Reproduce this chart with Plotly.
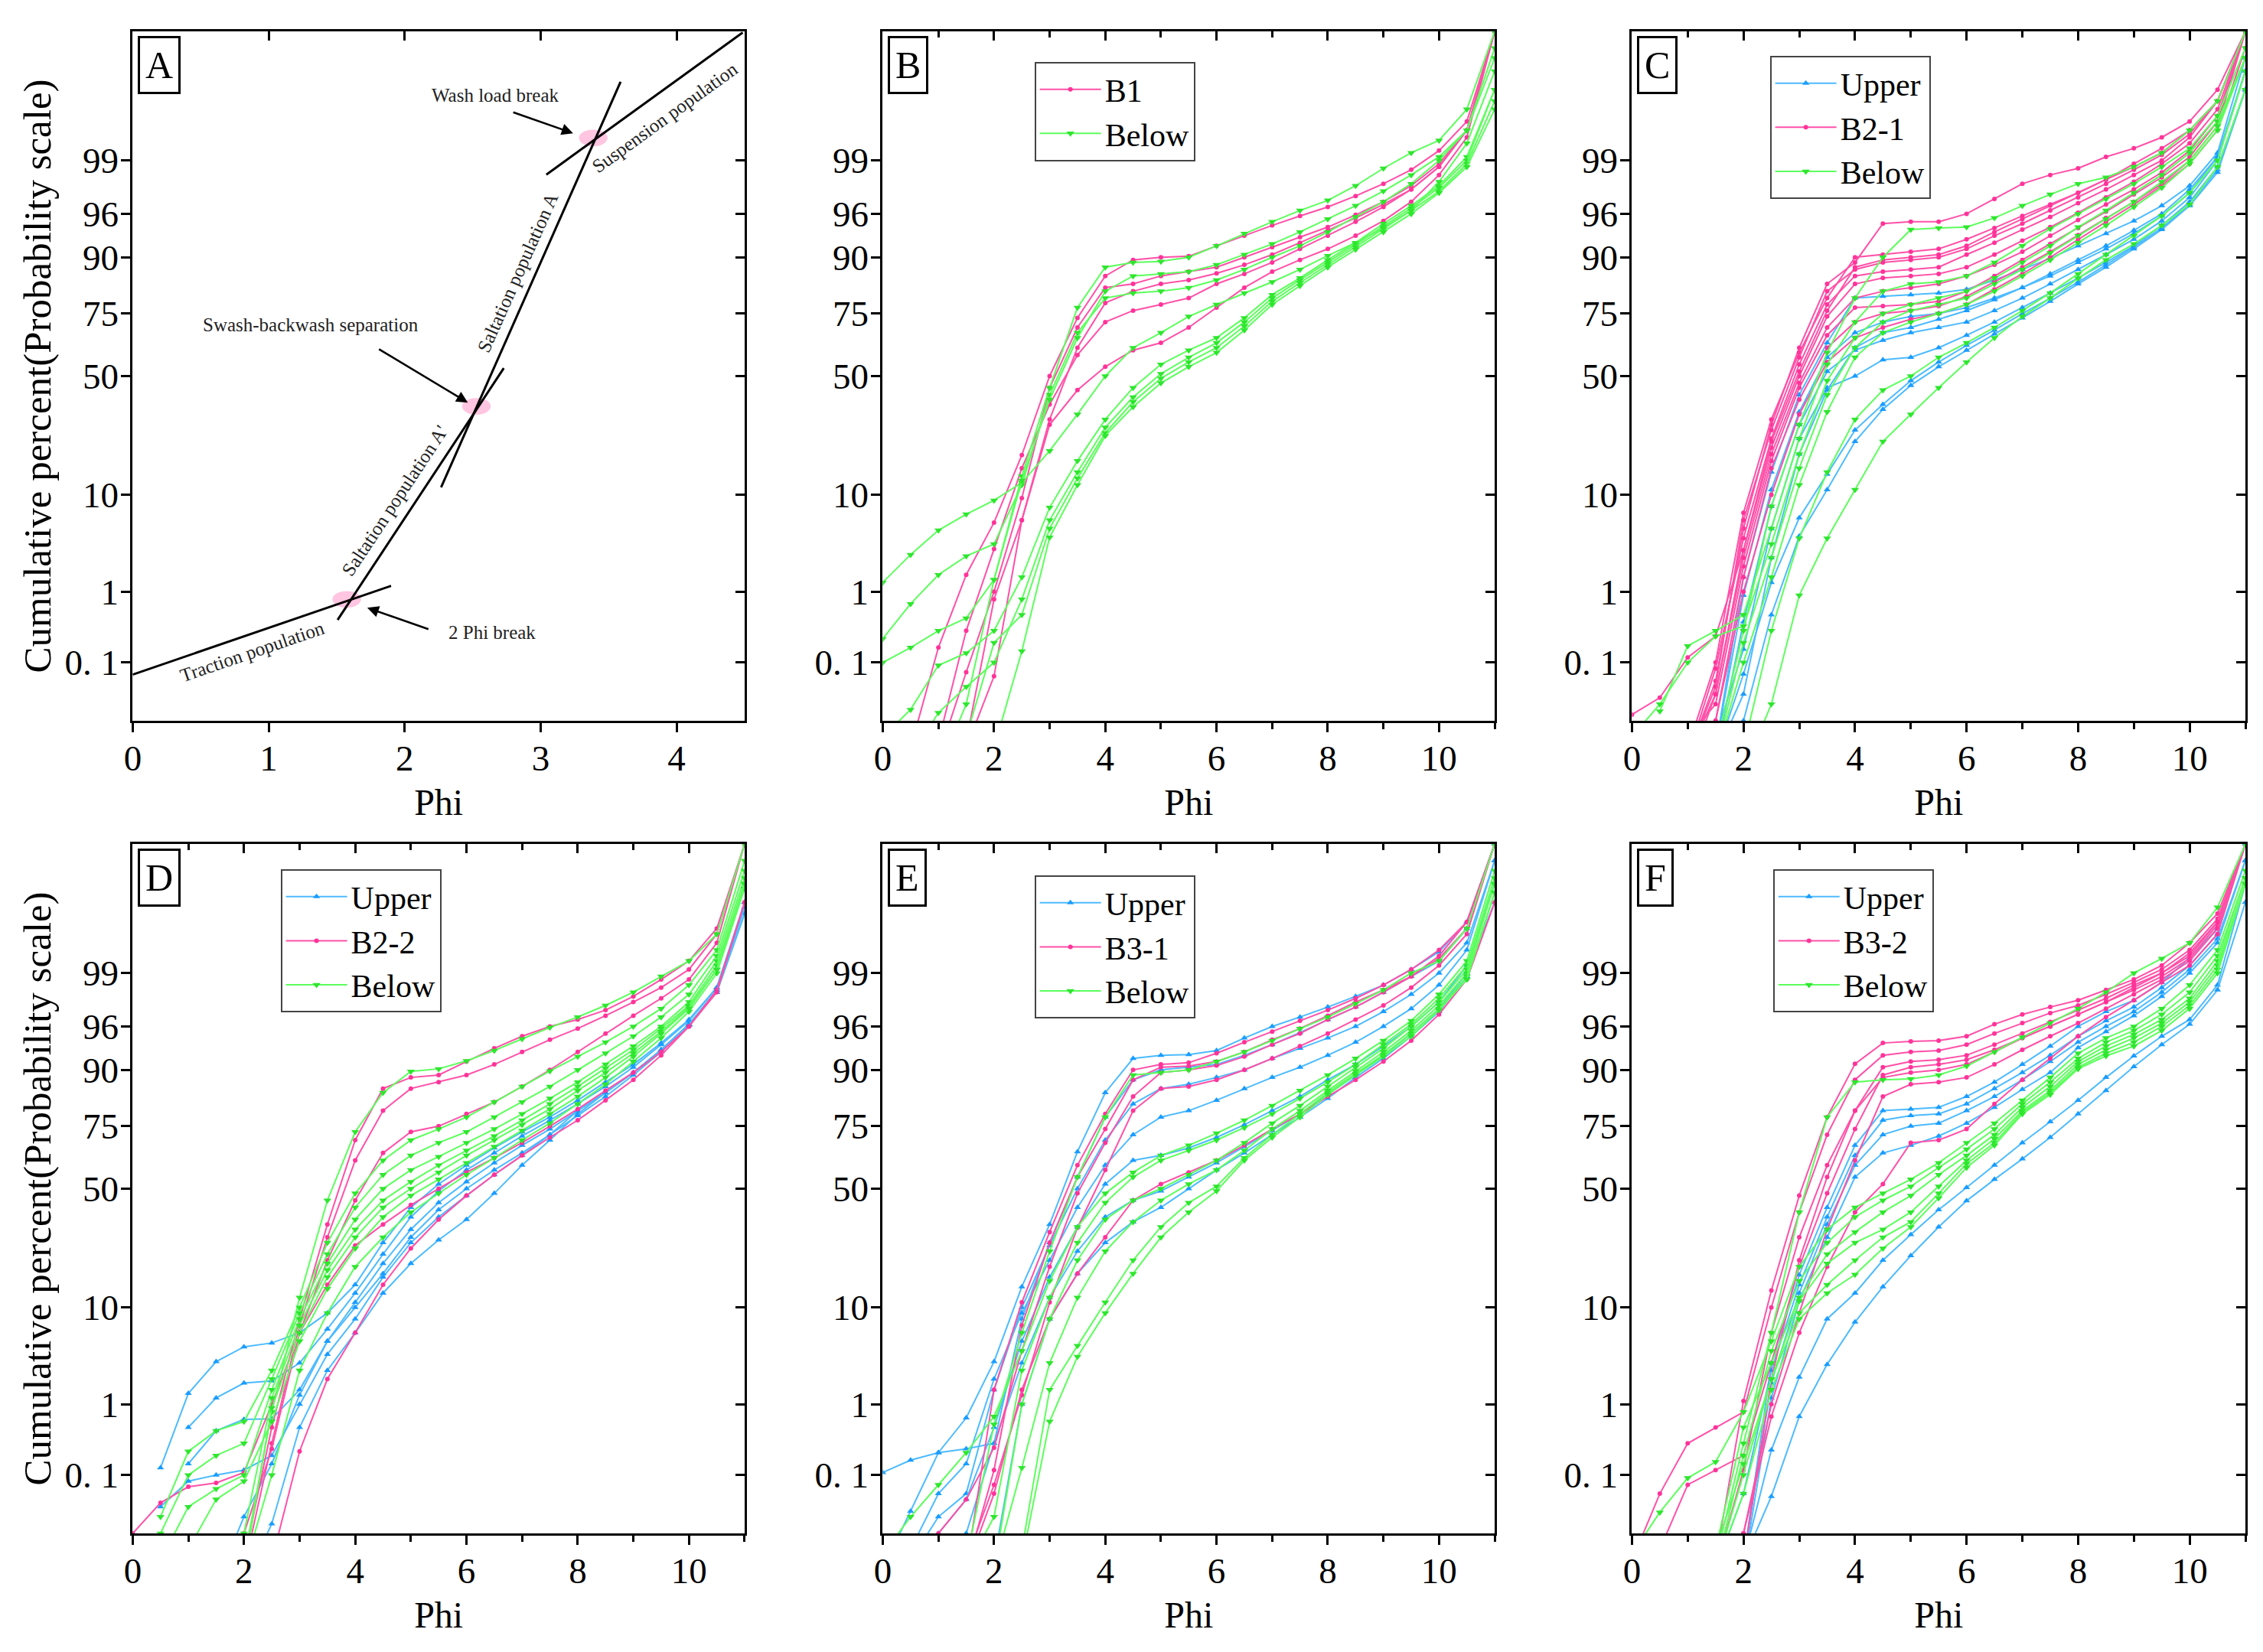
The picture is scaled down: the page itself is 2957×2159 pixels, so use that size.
import plotly.graph_objects as go
from statistics import NormalDist

FONT = "Liberation Serif"
N = None

# grain size grid (phi) shared by every sample curve
PHI = [0, 0.5, 1, 1.5, 2, 2.5, 3, 3.5, 4, 4.5, 5, 5.5, 6, 6.5, 7, 7.5, 8, 8.5, 9, 9.5, 10, 10.5, 11]

# probability axis
Y_TICKS = [0.1, 1, 10, 50, 75, 90, 96, 99]
Y_TICK_TEXT = ["0. 1", "1", "10", "50", "75", "90", "96", "99"]
Y_LIMITS = [0.01, 99.99]

# ---- panel A : schematic populations (phi, cumulative %) ----
A_TRACTION_PHI = [0.0, 1.90]
A_TRACTION_PCT = [0.064, 1.18]
A_SALT_A1_PHI = [1.507, 2.729]
A_SALT_A1_PCT = [0.427, 53.4]
A_SALT_A_PHI = [2.268, 3.588]
A_SALT_A_PCT = [11.5, 99.925]
A_SUSP_PHI = [3.042, 4.486]
A_SUSP_PCT = [98.515, 99.9895]
A_BREAK_PHI = [1.574, 2.528, 3.387]
A_BREAK_PCT = [0.80, 37.2, 99.49]

# ---- panel B ----
B_B1 = [
    [N, 0.003, 0.17, 1.6, 5.7, 19.7, 50, 73.5, 86, 89.5, 90, 90.2, 92, 93.5, 94.8, 95.8, 96.6, 97.4, 98.1, 98.7, 99.25, 99.7, 99.99],
    [N, N, 0.002, 0.07, 1.0, 9.4, 45, 70, 83, 84, 86, 87, 88, 90, 91.8, 93.3, 94.6, 95.9, 97, 98, 98.9, 99.6, 99.99],
    [N, N, N, 0.003, 0.06, 6, 32, 62, 78.5, 82, 84, 85, 86.6, 88.5, 90.5, 92.5, 94.2, 95.6, 96.8, 97.8, 98.8, 99.6, 99.99],
    [N, N, 0.004, 0.3, 3.1, 16, 38, 59, 72, 76, 78, 80, 84, 86.5, 89, 91.5, 93.5, 95.2, 96.6, 97.8, 98.8, 99.6, 99.99],
    [N, N, N, 0.004, 0.8, 6, 30, 44, 54, 61, 64, 70, 77, 83, 87, 89.5, 91.5, 93.5, 95.3, 97, 98.5, 99.5, 99.99],
]
B_BELOW = [
    [N, N, 0.001, 0.02, 1.4, 14, 45, 77, 88, 89, 89.2, 90, 92, 93.8, 95.2, 96.3, 97.1, 98, 98.75, 99.2, 99.45, 99.8, 99.99],
    [1.3, 2.7, 4.8, 6.8, 9, 12.5, 21, 34, 50, 62, 68, 74, 78, 81.5, 84.5, 87.5, 90.3, 92.5, 94.5, 96.3, 98.2, 99.4, 99.95],
    [0.23, 0.7, 1.6, 2.6, 3.5, 12, 42, 68, 80, 81.5, 82, 83, 85, 87.5, 90, 92, 94, 95.7, 97, 98.1, 99, 99.6, 99.98],
    [0.1, 0.17, 0.3, 0.45, 1.4, 13, 40, 66, 82, 86, 86.5, 87, 88.5, 90.5, 92.3, 94, 95.5, 96.7, 97.7, 98.5, 99.1, 99.6, 99.97],
    [0.005, 0.016, 0.09, 0.14, 0.3, 1.5, 7.8, 18, 32, 45, 55, 61, 66, 73.5, 81, 85.5, 89.5, 92.5, 95, 96.7, 98, 99.1, 99.9],
    [N, 0.002, 0.014, 0.04, 0.1, 0.8, 6, 15, 29, 41, 51, 58, 64, 72, 80, 85, 89, 92.2, 94.7, 96.5, 97.9, 99, 99.9],
    [N, N, N, 0.005, 0.2, 0.5, 5, 13.5, 27, 39, 49, 56, 62, 70.5, 79, 84.3, 88.5, 91.8, 94.4, 96.3, 97.7, 98.9, 99.85],
    [N, N, N, N, 0.003, 0.15, 4.1, 12, 26, 37, 47, 54, 60, 69, 78, 83.5, 88, 91.4, 94, 96, 97.6, 98.8, 99.8],
]

# ---- panel C ----
C_UPPER = [
    [N, N, N, 0.003, 1.5, 15, 42, 64, 80, 80.5, 81, 81.5, 82.5, 85, 87.5, 89.8, 92, 93.8, 95.3, 96.7, 98, 99.2, 99.97],
    [N, N, N, 0.003, 0.9, 11, 35, 58, 68, 72, 74, 75, 77, 80, 83, 86, 89, 91.5, 93.8, 95.8, 97.6, 99.1, 99.95],
    [N, N, N, 0.002, 0.4, 8, 30, 52, 61, 65, 68, 70, 72, 76, 80, 84, 87.5, 90.5, 93, 95.3, 97.3, 99, 99.95],
    [N, N, N, 0.005, 0.16, 5, 25, 45, 50, 57, 58, 62, 67, 72, 77, 81.5, 85.5, 89, 92, 94.8, 97, 98.8, 99.9],
    [N, N, N, 0.002, 0.065, 1.3, 6.3, 14.5, 28, 38, 48, 56, 63, 69, 75, 80, 84.5, 88.5, 91.8, 94.5, 96.8, 98.7, 99.9],
    [N, N, N, 0.001, 0.01, 0.5, 4.2, 11, 24, 36, 46, 54, 61, 67.5, 73.5, 79, 84, 88, 91.5, 94.3, 96.7, 98.6, 99.9],
    [N, N, N, 0.002, 0.03, 2.5, 20, 44, 62, 68, 70, 73, 76, 79.5, 83, 86.5, 89.5, 92, 94.2, 96, 97.8, 99.1, 99.95],
]
C_B21 = [
    [N, N, 0.002, 0.05, 5, 30, 62, 84, 89, 95, 95.2, 95.2, 96, 97.2, 98.1, 98.5, 98.75, 99.1, 99.3, 99.5, 99.7, 99.9, 99.99],
    [N, N, 0.003, 0.1, 7, 32, 60, 80, 90, 90.5, 91, 91.5, 93, 94.5, 95.8, 96.8, 97.6, 98.3, 98.8, 99.2, 99.6, 99.85, 99.99],
    [N, N, 0.002, 0.08, 4, 25, 55, 78, 86, 87, 87.5, 88, 90.5, 92.5, 94.3, 95.7, 96.9, 97.8, 98.5, 99, 99.5, 99.85, 99.99],
    [N, N, 0.001, 0.03, 3, 22, 50, 74, 84, 85.5, 86, 86.5, 88, 90.5, 92.8, 94.6, 96.1, 97.3, 98.2, 98.9, 99.4, 99.8, 99.99],
    [N, N, 0.005, 0.02, 2, 18, 45, 67, 77, 77.5, 78, 79, 82, 86, 89.5, 92.3, 94.5, 96.2, 97.5, 98.4, 99.1, 99.7, 99.99],
    [N, N, 0.001, 0.01, 1.5, 16, 40, 62, 72, 75, 76, 77.5, 80.5, 84.5, 88, 91, 93.6, 95.6, 97, 98.1, 99, 99.65, 99.99],
    [N, N, 0.001, 0.01, 1.0, 10, 34, 56, 66, 70, 73, 75, 78, 82.5, 86.5, 90, 93, 95.2, 96.8, 98, 98.9, 99.6, 99.98],
    [0.013, 0.026, 0.12, 0.25, 3, 24, 52, 76, 88, 89.5, 90, 90.5, 92, 94, 95.5, 96.7, 97.6, 98.3, 98.9, 99.3, 99.6, 99.85, 99.99],
    [N, N, 0.002, 0.04, 6, 28, 58, 82, 87.5, 89, 89.5, 90, 91.5, 93.5, 95, 96.3, 97.3, 98.1, 98.7, 99.15, 99.55, 99.85, 99.99],
    [N, N, 0.002, 0.03, 2.5, 20, 47, 70, 80, 82, 83, 84, 86, 88.5, 91, 93.5, 95.4, 96.8, 97.8, 98.6, 99.25, 99.75, 99.99],
]
C_BELOW = [
    [N, N, N, 0.003, 0.3, 8, 30, 60, 80, 90, 94.3, 94.5, 94.6, 95.6, 96.7, 97.5, 98.1, 98.4, 98.8, 99.2, 99.6, 99.85, 99.99],
    [N, 0.015, 0.18, 0.3, 0.5, 5, 25, 55, 72, 82, 84, 84.5, 86, 89, 92, 94.4, 96, 97.2, 98.1, 98.8, 99.3, 99.75, 99.98],
    [0.005, 0.02, 0.1, 0.25, 0.35, 3.5, 20, 48, 66, 75, 78, 80, 82, 85.5, 89, 92, 94.6, 96.3, 97.6, 98.5, 99.2, 99.7, 99.97],
    [N, N, N, 0.002, 0.1, 1.5, 12, 35, 58, 68, 72, 75, 78, 82, 86, 89.5, 92.5, 94.8, 96.6, 97.9, 98.9, 99.6, 99.97],
    [N, N, N, N, 0.003, 0.3, 4, 15, 32, 44, 50, 58, 64, 70, 76, 81.5, 86.5, 90.5, 93.5, 95.8, 97.6, 99, 99.95],
    [N, N, N, N, 0.001, 0.02, 0.9, 4, 11, 24, 34, 45, 56, 66, 74, 80, 85.4, 89.5, 92.3, 94.8, 96.8, 98.8, 99.9],
    [N, N, N, 0.002, 0.2, 2.5, 16, 42, 62, 72, 76, 78, 80, 84, 87.5, 90.8, 93.5, 95.5, 97, 98.2, 99, 99.65, 99.97],
]

# ---- panel D ----
D_UPPER = [
    [N, 0.13, 1.36, 3.1, 4.4, 4.8, 6, 9, 15, 28, 42, 52, 60, 67, 73, 78, 83, 87.5, 91, 94.2, 96.6, 98.5, 99.9],
    [N, N, 0.5, 1.2, 1.8, 1.9, 3, 6.5, 13, 24, 38, 49, 58, 65, 71.5, 77, 82, 86.5, 90.5, 94, 96.5, 98.5, 99.9],
    [N, N, 0.15, 0.45, 0.64, 0.65, 1.5, 5, 11, 21, 33, 44, 53, 61, 68, 74, 80, 85, 89.5, 93.3, 96.2, 98.4, 99.88],
    [N, 0.03, 0.08, 0.1, 0.12, 0.2, 1.0, 3.7, 8, 17, 28, 38, 47, 56, 64, 72, 80, 85, 89.5, 93.3, 96.2, 98.3, 99.85],
    [N, N, N, N, 0.001, 0.015, 0.5, 2.5, 6, 13, 21, 29, 37, 48, 60, 70, 79, 85, 89.5, 93.3, 96.2, 98.3, 99.85],
    [N, N, N, 0.001, 0.02, 0.15, 1.3, 5, 10, 18, 30, 41, 50, 58, 65, 72, 78.5, 84, 89, 93, 96.1, 98.4, 99.88],
]
D_B22 = [
    [N, N, N, N, 0.003, 0.5, 8, 35, 70, 86, 88.5, 89, 91.5, 93.5, 95, 96, 96.6, 97.3, 98.1, 98.8, 99.3, 99.75, 99.99],
    [N, N, N, N, 0.002, 0.3, 7, 30, 62, 80, 86, 87.5, 89, 91, 93, 94.6, 95.8, 96.9, 97.8, 98.5, 99.1, 99.7, 99.99],
    [N, N, N, 0.001, 0.01, 0.25, 6, 22, 45, 65, 73, 75, 79, 82.5, 86.5, 90, 93, 95.3, 96.9, 98, 98.8, 99.6, 99.99],
    [0.01, 0.035, 0.065, 0.075, 0.11, 1.0, 6, 15, 27, 35, 43, 50, 57, 63, 69, 75, 80.5, 85.5, 89.5, 93, 96, 98.4, 99.9],
    [N, N, N, N, N, 0.003, 0.23, 2, 6, 15, 26, 37, 47, 56, 64, 71, 77, 83, 88, 92.5, 96, 98.3, 99.9],
]
D_BELOW = [
    [N, N, N, N, 0.003, 0.8, 12, 45, 73, 85, 89.7, 90.2, 91.6, 93.2, 94.7, 95.9, 96.8, 97.6, 98.3, 98.9, 99.3, 99.7, 99.99],
    [N, 0.02, 0.23, 0.45, 0.6, 2.5, 10, 28, 48, 62, 70, 74, 78, 82.5, 86.5, 89.8, 92.3, 94.3, 96, 97.4, 98.6, 99.5, 99.98],
    [N, 0.01, 0.1, 0.2, 0.3, 2, 9, 24, 42, 56, 64, 69, 73, 78, 82.5, 86.5, 90, 92.8, 95, 96.8, 98.2, 99.4, 99.97],
    [N, 0.003, 0.03, 0.06, 0.1, 1.5, 8, 21, 37, 50, 58, 63.5, 69, 74, 79, 83.5, 87.5, 91, 93.8, 96, 97.8, 99.3, 99.96],
    [N, N, N, 0.002, 0.01, 1.2, 7, 19, 33, 45, 53, 60, 66, 71.5, 77, 82, 86.5, 90.3, 93.3, 95.8, 97.6, 99.2, 99.95],
    [N, N, N, N, 0.002, 0.9, 6, 17, 30, 42, 50, 57, 64, 70, 75.5, 80.5, 85.5, 89.5, 92.8, 95.5, 97.5, 99.1, 99.95],
    [N, N, N, N, 0.002, 0.1, 2.5, 9, 20, 30, 40, 48, 56, 63, 70, 76, 82, 87, 91.5, 94.8, 97.2, 99, 99.94],
    [N, 0.001, 0.005, 0.04, 0.08, 0.6, 5, 14, 26, 38, 47, 54, 61, 67.5, 73.5, 79, 84, 88.5, 92.3, 95.3, 97.4, 99.1, 99.95],
]

# ---- panel E ----
E_UPPER = [
    [0.002, 0.025, 0.22, 0.67, 3.1, 14.5, 35, 65.5, 85, 92, 92.5, 92.6, 93.2, 94.8, 96, 96.8, 97.5, 98.1, 98.6, 99.1, 99.47, 99.8, 99.99],
    [0.11, 0.17, 0.22, 0.25, 0.3, 8, 28, 55, 78, 88, 90, 90.5, 91, 92.5, 94, 95.4, 96.6, 97.5, 98.3, 98.9, 99.3, 99.75, 99.99],
    [N, 0.003, 0.02, 0.05, 1.5, 10, 27, 50, 70, 82, 86, 87, 88.5, 90, 92, 93.5, 94.8, 96, 97.2, 98.2, 99, 99.6, 99.98],
    [N, 0.005, 0.05, 0.15, 2, 9, 22, 42, 60, 72, 78, 80, 83, 86, 88.5, 90.5, 92.5, 94.3, 96, 97.4, 98.6, 99.5, 99.98],
    [N, 0.001, 0.01, 0.04, 0.5, 5, 17, 34, 52, 62, 64, 67, 71, 75.5, 80, 84, 88, 91, 93.8, 96, 97.8, 99.2, 99.95],
    [N, N, 0.001, 0.01, 0.3, 3, 12, 25, 38, 45, 49, 55, 61, 67.5, 73.5, 79, 84.5, 89, 92.5, 95.3, 97.4, 99, 99.9],
    [N, N, N, N, 0.003, 1, 8, 18, 28, 36, 42, 50, 58, 65, 72, 78, 83.5, 88.5, 92, 95, 97.2, 98.9, 99.9],
]
E_B31 = [
    [N, N, N, 0.002, 1.5, 11, 32, 60, 79, 90, 91, 91.3, 92.8, 94.3, 95.5, 96.5, 97.3, 98, 98.6, 99.1, 99.5, 99.8, 99.99],
    [N, N, N, 0.002, 0.12, 7, 28, 55, 74, 88, 90.5, 90.7, 91.5, 93, 94.6, 95.8, 96.9, 97.8, 98.4, 98.9, 99.4, 99.8, 99.99],
    [N, 0.002, 0.01, 0.04, 0.26, 4, 20, 48, 69, 84, 89.5, 90, 90.8, 92.3, 94, 95.3, 96.6, 97.5, 98.3, 98.9, 99.35, 99.75, 99.99],
    [N, N, N, 0.003, 0.07, 1.3, 11, 33.7, 58, 80, 86, 86.5, 88, 90, 92, 93.8, 95.3, 96.6, 97.6, 98.5, 99.2, 99.7, 99.99],
    [N, N, N, 0.002, 0.05, 1.5, 8, 18, 30, 45, 52, 57, 62, 68, 74, 79, 84, 88, 91.5, 94.5, 97, 98.8, 99.9],
]
E_BELOW = [
    [N, N, N, 0.003, 0.55, 6, 25, 55, 78, 89, 89.5, 90, 91.5, 93, 94.5, 95.8, 96.8, 97.7, 98.4, 99, 99.3, 99.75, 99.99],
    [0.004, 0.02, 0.07, 0.22, 0.7, 4, 16, 34, 48, 57, 64, 68, 72.5, 77, 81.5, 85.5, 89, 92, 94.5, 96.5, 98.2, 99.3, 99.97],
    [N, N, N, 0.002, 0.02, 2.5, 12, 28, 44, 55, 62, 66, 70, 74.5, 79, 83.5, 87.5, 91, 94, 96.2, 98, 99.2, 99.96],
    [N, N, N, N, 0.002, 1.0, 8, 22, 37, 45, 50, 56, 62, 69, 76, 81.5, 86.5, 90.5, 93.5, 96, 97.8, 99.1, 99.95],
    [N, N, N, N, 0.002, 0.13, 3, 12, 25, 36, 45, 52, 58, 66, 74, 80, 85.5, 89.8, 93, 95.6, 97.6, 99, 99.95],
    [N, N, N, N, N, 0.005, 1.5, 4.5, 11, 22, 34, 44, 51, 63, 72, 79, 85, 89.3, 92.6, 95.3, 97.4, 98.9, 99.93],
    [N, N, N, N, N, 0.003, 0.6, 3.5, 9, 18, 30, 40, 49, 62, 71, 78, 84.5, 89, 92.3, 95, 97.3, 98.8, 99.93],
]

# ---- panel F ----
F_UPPER = [
    [N, N, N, N, 0.003, 3, 17.6, 42, 68, 80, 80.5, 81, 84, 87.5, 91, 93.8, 96, 97.2, 97.9, 98.7, 99.36, 99.75, 99.99],
    [N, N, N, 0.002, 0.05, 2.5, 15, 38, 64, 77, 78.5, 79, 82, 86, 89.5, 92.5, 95, 96.5, 97.5, 98.5, 99.2, 99.7, 99.99],
    [N, N, N, N, 0.003, 1.8, 13, 35, 60, 72, 75, 76, 80, 84, 88, 91.5, 94.3, 96, 97.2, 98.3, 99.1, 99.65, 99.98],
    [N, N, N, N, 0.002, 1.2, 11.3, 30, 55, 65, 68, 71.5, 76, 81, 85.8, 89.5, 93.6, 95.5, 96.9, 98.1, 99, 99.6, 99.98],
    [N, N, N, N, 0.003, 0.24, 2.1, 8, 13, 22, 31, 41, 50.5, 60, 69, 76.5, 83, 88.5, 92.4, 95, 96.6, 98.6, 99.95],
    [N, N, N, N, 0.003, 0.045, 0.7, 2.9, 7.5, 14.5, 23.5, 34, 44.8, 54, 62.6, 71, 79, 85.5, 90.6, 94, 96.2, 98.4, 99.9],
]
F_B32 = [
    [N, N, N, 0.003, 1.1, 13.6, 47, 78, 91.1, 94.2, 94.4, 94.5, 95, 96.2, 97, 97.5, 97.9, 98.4, 98.8, 99.2, 99.6, 99.85, 99.99],
    [0.003, 0.05, 0.3, 0.5, 0.8, 10, 40, 72, 88, 92.5, 93, 93.2, 94, 95.3, 96.3, 97.1, 97.6, 98.2, 98.7, 99.1, 99.5, 99.82, 99.99],
    [N, N, N, 0.002, 0.12, 6, 30, 60, 80, 90.5, 91.5, 91.8, 92.5, 94, 95.3, 96.4, 97.3, 98, 98.6, 99, 99.4, 99.8, 99.99],
    [0.001, 0.005, 0.07, 0.12, 0.2, 3, 20, 48, 74, 89, 90.5, 91, 91.8, 93.3, 94.8, 96, 97, 97.8, 98.4, 98.9, 99.35, 99.78, 99.99],
    [N, N, N, 0.002, 0.01, 1.0, 9, 33, 62, 84, 87, 87.5, 88.5, 91, 93.3, 95, 96.3, 97.4, 98.2, 98.8, 99.3, 99.75, 99.99],
    [N, N, N, 0.002, 0.01, 0.7, 6, 20, 40, 52, 69, 70, 74, 82, 88, 92, 95, 96.8, 97.9, 98.7, 99.2, 99.7, 99.99],
    [N, N, N, N, 0.003, 2, 22, 55, 80, 88.5, 89.5, 90, 91, 93, 94.8, 96, 97, 97.8, 98.5, 99, 99.45, 99.8, 99.99],
]
F_BELOW = [
    [N, N, N, 0.003, 0.3, 6, 40, 78, 87.5, 88, 88.2, 89, 90.7, 93, 94.9, 96.3, 97.4, 98.3, 99, 99.35, 99.6, 99.88, 99.99],
    [0.004, 0.024, 0.09, 0.16, 0.8, 5, 20, 33, 42, 48, 54, 61, 69, 76, 83, 88.5, 92.8, 94.8, 96, 97.4, 98.6, 99.5, 99.97],
    [N, N, N, 0.002, 0.2, 4, 16, 28, 38, 45, 51, 59, 66.5, 74, 82, 87.5, 92, 94.3, 95.6, 97, 98.3, 99.4, 99.96],
    [N, N, N, 0.005, 0.5, 3, 12, 24, 32, 40, 47, 56, 64, 72, 81, 86.5, 91.5, 93.8, 95.2, 96.6, 98, 99.3, 99.96],
    [N, N, N, 0.005, 0.15, 2, 11.3, 21, 28, 33, 40, 51, 62, 70.5, 80, 85.5, 91, 93.3, 94.8, 96.3, 97.8, 99.2, 99.95],
    [N, N, N, 0.002, 0.1, 2, 9, 15, 22, 30, 36, 48, 60.6, 69, 79.5, 85, 90.5, 92.8, 94.3, 96, 97.6, 99.1, 99.95],
    [N, N, N, 0.002, 0.05, 1.5, 8, 13, 17.7, 26, 34, 46, 59, 68, 79, 84.5, 90.2, 92.4, 93.8, 95.6, 97.4, 99, 99.95],
]

STYLE = {
    "up": dict(line="#4DBBFF", marker="#1A9CFF", symbol="triangle-up", size=8),
    "mid": dict(line="#FF50A8", marker="#FF3399", symbol="circle", size=6),
    "low": dict(line="#5CFF5C", marker="#2EE62E", symbol="triangle-down", size=9),
}

# letter, groups, legend top-left (paper)
PANELS = [
    ("B", [("B1", B_B1, "mid"), ("Below", B_BELOW, "low")], (0.4549, 0.9625)),
    ("C", [("Upper", C_UPPER, "up"), ("B2-1", C_B21, "mid"), ("Below", C_BELOW, "low")], (0.7812, 0.9662)),
    ("D", [("Upper", D_UPPER, "up"), ("B2-2", D_B22, "mid"), ("Below", D_BELOW, "low")], (0.1204, 0.4738)),
    ("E", [("Upper", E_UPPER, "up"), ("B3-1", E_B31, "mid"), ("Below", E_BELOW, "low")], (0.4549, 0.4701)),
    ("F", [("Upper", F_UPPER, "up"), ("B3-2", F_B32, "mid"), ("Below", F_BELOW, "low")], (0.7826, 0.4738)),
]

X_DOMAINS = [[0.0548, 0.3263], [0.3876, 0.6591], [0.7200, 0.9922]]
Y_DOMAINS = [[0.5637, 0.9810], [0.0718, 0.4891]]

ND = NormalDist()


def probit(pcts):
    return [None if p is None else ND.inv_cdf(p / 100.0) for p in pcts]


def sfx(n):
    return "" if n == 1 else str(n)


Y_RANGE = probit(Y_LIMITS)
Y_TICKVALS = probit(Y_TICKS)
TICKFONT = dict(family=FONT, size=47, color="black")

fig = go.Figure()

# ---- panel A ----
for xs, ps in [(A_TRACTION_PHI, A_TRACTION_PCT), (A_SALT_A1_PHI, A_SALT_A1_PCT),
               (A_SALT_A_PHI, A_SALT_A_PCT), (A_SUSP_PHI, A_SUSP_PCT)]:
    fig.add_trace(go.Scatter(x=xs, y=probit(ps), mode="lines", xaxis="x", yaxis="y",
                             line=dict(color="black", width=3), showlegend=False))

for bx, bz in zip(A_BREAK_PHI, probit(A_BREAK_PCT)):
    fig.add_shape(type="circle", xref="x", yref="y", x0=bx - 0.105, x1=bx + 0.105,
                  y0=bz - 0.09, y1=bz + 0.09, fillcolor="rgba(255,150,200,0.55)",
                  line=dict(width=0), layer="below")

# ---- panels B-F ----
for i, (letter, groups, (lx, ly)) in enumerate(PANELS):
    n = i + 2
    legend_id = "legend" + ("" if i == 0 else str(i + 1))
    for name, curves, key in groups:
        st = STYLE[key]
        for k, curve in enumerate(curves):
            assert len(curve) == len(PHI), (letter, name, k)
            fig.add_trace(go.Scatter(
                x=PHI, y=probit(curve), mode="lines+markers", name=name,
                xaxis="x" + sfx(n), yaxis="y" + sfx(n), legend=legend_id,
                showlegend=(k == 0), legendgroup=letter + name,
                line=dict(color=st["line"], width=2),
                marker=dict(color=st["marker"], symbol=st["symbol"], size=st["size"]),
            ))
    fig.layout[legend_id] = dict(
        x=lx, y=ly, xanchor="left", yanchor="top", bgcolor="white",
        bordercolor="#444", borderwidth=2, font=dict(family=FONT, size=42, color="black"),
        tracegroupgap=0, itemwidth=80,
    )

annotations = []
for n in range(1, 7):
    row, col = (n - 1) // 3, (n - 1) % 3
    is_a = n == 1
    xr = [0, 4.5] if is_a else [0, 11]
    xt = [0, 1, 2, 3, 4] if is_a else [0, 2, 4, 6, 8, 10]
    base = dict(showgrid=False, zeroline=False, tickcolor="black", tickwidth=3, ticklen=12)
    xaxis = dict(base, domain=X_DOMAINS[col], anchor="y" + sfx(n), range=xr, tickvals=xt,
                 showline=True, linewidth=3, linecolor="black", mirror=True, ticks="outside",
                 tickfont=TICKFONT, ticklabelstandoff=-6,
                 title=dict(text="Phi", font=dict(family=FONT, size=48, color="black"), standoff=16))
    yaxis = dict(base, domain=Y_DOMAINS[row], anchor="x" + sfx(n), range=Y_RANGE,
                 tickvals=Y_TICKVALS, ticktext=Y_TICK_TEXT, showline=True, linewidth=3,
                 linecolor="black", mirror=True, ticks="outside", tickfont=TICKFONT,
                 ticklabelstandoff=-6)
    if not is_a:
        xaxis["minor"] = dict(dtick=1, tick0=0, ticks="outside", ticklen=8, tickwidth=3, tickcolor="black")
    if n in (1, 4):
        yaxis["title"] = dict(text="Cumulative percent(Probability scale)",
                              font=dict(family=FONT, size=51, color="black"), standoff=2)
    fig.layout["xaxis" + sfx(n)] = xaxis
    fig.layout["yaxis" + sfx(n)] = yaxis

    # inward ticks on top and right edges
    m = n + 6
    xtop = dict(base, overlaying="x" + sfx(n), side="top", anchor="y" + sfx(n), range=xr,
                tickvals=xt, ticks="inside", showticklabels=False, showline=False)
    if not is_a:
        xtop["minor"] = dict(dtick=1, tick0=0, ticks="inside", ticklen=8, tickwidth=3, tickcolor="black")
    yright = dict(base, overlaying="y" + sfx(n), side="right", anchor="x" + sfx(n), range=Y_RANGE,
                  tickvals=Y_TICKVALS, ticks="inside", showticklabels=False, showline=False)
    fig.layout["xaxis" + str(m)] = xtop
    fig.layout["yaxis" + str(m)] = yright
    fig.add_trace(go.Scatter(x=[None], y=[None], xaxis="x" + str(m), yaxis="y" + str(m),
                             mode="lines", showlegend=False, hoverinfo="skip"))

    letter = "ABCDEF"[n - 1]
    annotations.append(dict(
        text=letter, xref="x" + sfx(n) + " domain", yref="y" + sfx(n) + " domain",
        x=0.008, y=0.993, xanchor="left", yanchor="top", showarrow=False,
        font=dict(family=FONT, size=50, color="black"), bgcolor="white",
        bordercolor="black", borderwidth=3, borderpad=7,
    ))

# panel A labels
small = dict(family=FONT, size=25, color="#222")
for text, x, y, ang in [
    ("Wash load break", 2.665, 3.03, 0),
    ("Swash-backwash separation", 1.31, 0.555, 0),
    ("2 Phi break", 2.641, -2.763, 0),
    ("Suspension population", 3.915, 2.79, -35.8),
    ("Saltation population A", 2.83, 1.115, -66),
    ("Saltation population A'", 1.926, -1.344, -56.5),
    ("Traction population", 0.88, -2.975, -19),
]:
    annotations.append(dict(text=text, x=x, y=y, xref="x", yref="y", showarrow=False,
                            textangle=ang, font=small))

for hx, hy, tx, ty in [(3.239, 2.62, 2.79, 2.85), (2.465, -0.286, 1.803, 0.297),
                       (1.725, -2.50, 2.183, -2.735)]:
    annotations.append(dict(text="", x=hx, y=hy, ax=tx, ay=ty, xref="x", yref="y",
                            axref="x", ayref="y", showarrow=True, arrowhead=2,
                            arrowsize=1.2, arrowwidth=2.5, arrowcolor="black"))

fig.update_layout(
    width=2957, height=2159,
    margin=dict(l=0, r=0, t=0, b=0),
    paper_bgcolor="white", plot_bgcolor="white",
    font=dict(family=FONT, color="black"),
    annotations=annotations,
)

# drop the default page margin so the figure sits at the window origin
fig.write_html("out.html", config={"displayModeBar": False},
               post_script="document.body.style.margin='0';document.body.style.overflow='hidden';")
